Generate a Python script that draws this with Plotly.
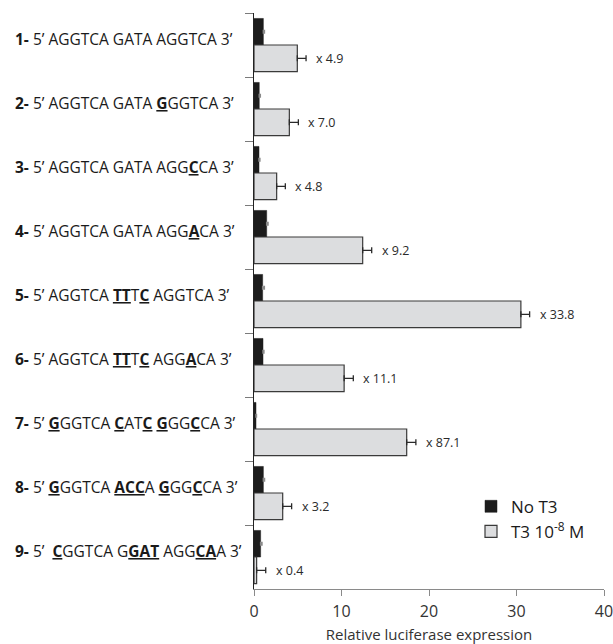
import plotly.graph_objects as go

# ---- data ----
cat_ids = ["s1", "s2", "s3", "s4", "s5", "s6", "s7", "s8", "s9"]
seq_labels = [
    "<b>1-</b> 5’ AGGTCA GATA AGGTCA 3’",
    "<b>2-</b> 5’ AGGTCA GATA <b><u>G</u></b>GGTCA 3’",
    "<b>3-</b> 5’ AGGTCA GATA AGG<b><u>C</u></b>CA 3’",
    "<b>4-</b> 5’ AGGTCA GATA AGG<b><u>A</u></b>CA 3’",
    "<b>5-</b> 5’ AGGTCA <b><u>TT</u></b>T<b><u>C</u></b> AGGTCA 3’",
    "<b>6-</b> 5’ AGGTCA <b><u>TT</u></b>T<b><u>C</u></b> AGG<b><u>A</u></b>CA 3’",
    "<b>7-</b> 5’ <b><u>G</u></b>GGTCA <b><u>C</u></b>AT<b><u>C</u></b> <b><u>G</u></b>GG<b><u>C</u></b>CA 3’",
    "<b>8-</b> 5’ <b><u>G</u></b>GGTCA <b><u>ACC</u></b>A <b><u>G</u></b>GG<b><u>C</u></b>CA 3’",
    "<b>9-</b> 5’\u00a0 <b><u>C</u></b>GGTCA G<b><u>GAT</u></b> AGG<b><u>CA</u></b>A 3’",
]
no_t3 = [1.07, 0.6, 0.57, 1.45, 0.99, 1.03, 0.23, 1.07, 0.76]
no_t3_err = [0.12, 0.12, 0.1, 0.15, 0.19, 0.1, 0.05, 0.13, 0.15]
t3 = [4.95, 4.04, 2.59, 12.42, 30.5, 10.3, 17.45, 3.28, 0.3]
t3_err = [1.0, 1.03, 0.99, 1.03, 1.0, 1.05, 1.05, 1.02, 1.04]
fold_labels = ["x 4.9", "x 7.0", "x 4.8", "x 9.2", "x 33.8", "x 11.1", "x 87.1", "x 3.2", "x 0.4"]
x_ticks = [0, 10, 20, 30, 40]

FONT = "Open Sans"

fig = go.Figure()
fig.add_trace(go.Bar(
    y=cat_ids, x=no_t3, orientation="h", name="No T3",
    marker=dict(color="#1c1c1c", line=dict(color="#1c1c1c", width=0.5)),
    error_x=dict(type="data", array=no_t3_err, arrayminus=[0] * 9, symmetric=False,
                 color="#8a8a8a", thickness=1.5, width=2),
))
fig.add_trace(go.Bar(
    y=cat_ids, x=t3, orientation="h", name="T3 10<sup>-8</sup> M",
    marker=dict(color="#dcdddf", line=dict(color="#3a3a3a", width=1.2)),
    error_x=dict(type="data", array=t3_err, arrayminus=[0] * 9, symmetric=False,
                 color="#2a2a2a", thickness=1.3, width=3),
))

annotations = []
for cid, lab in zip(cat_ids, seq_labels):
    annotations.append(dict(
        x=-241 / 350, xref="paper", y=cid, yref="y", text=lab, showarrow=False,
        xanchor="left", yanchor="middle", yshift=6,
        font=dict(family=FONT, size=15.5, color="#1a1a1a"),
    ))
for cid, v, e, lab in zip(cat_ids, t3, t3_err, fold_labels):
    annotations.append(dict(
        x=v + e, xref="x", y=cid, yref="y", text=lab, showarrow=False,
        xanchor="left", yanchor="middle", xshift=8, yshift=-13,
        font=dict(family=FONT, size=12.5, color="#2a2a2a"),
    ))

fig.update_layout(
    width=613, height=644,
    margin=dict(l=254, r=9, t=13, b=55, autoexpand=False),
    paper_bgcolor="white", plot_bgcolor="white",
    barmode="group", bargap=0.17, bargroupgap=0,
    showlegend=True,
    legend=dict(x=0.62, y=0.174, xanchor="left", yanchor="top",
                font=dict(family=FONT, size=17, color="#1a1a1a"),
                bgcolor="rgba(0,0,0,0)", tracegroupgap=2),
    annotations=annotations,
    font=dict(family=FONT),
)
fig.update_xaxes(
    range=[0, 40], tickvals=x_ticks, ticktext=[str(t) for t in x_ticks],
    ticks="outside", ticklen=6, tickcolor="#8a8a8a", tickwidth=1,
    showline=True, linecolor="#8a8a8a", linewidth=1.2,
    showgrid=False, zeroline=False, automargin=False,
    ticklabeloverflow="allow", ticklabelstandoff=2,
    tickfont=dict(family=FONT, size=16, color="#333333"),
    title=dict(text="Relative luciferase expression", standoff=10,
               font=dict(family=FONT, size=15, color="#333333")),
)
fig.update_yaxes(
    type="category", categoryorder="array", categoryarray=cat_ids,
    autorange="reversed", tickson="boundaries",
    ticks="outside", ticklen=8, tickcolor="#7a7a7a", tickwidth=1,
    showline=True, linecolor="#222222", linewidth=1.2, automargin=False,
    showticklabels=False, showgrid=False, zeroline=False,
)

fig.write_html(
    "out.html",
    config={"displayModeBar": False},
    post_script="document.body.style.margin='0px';"
                "document.documentElement.style.overflow='hidden';"
                "document.body.style.overflow='hidden';",
)
